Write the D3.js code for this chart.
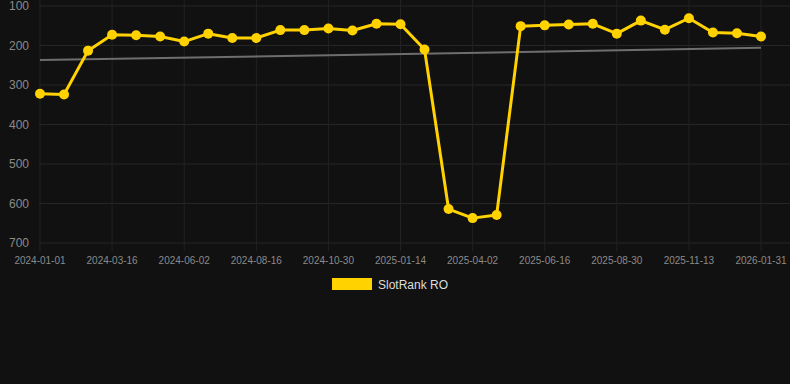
<!DOCTYPE html>
<html>
<head>
<meta charset="utf-8">
<script src="https://cdn.jsdelivr.net/npm/d3@7"></script>
<style>
  html, body { margin: 0; padding: 0; background: #111111; }
  body { width: 790px; height: 384px; overflow: hidden; font-family: "Liberation Sans", Arial, sans-serif; }
</style>
</head>
<body>
<div id="chart"></div>
<script>
// rank points, one per sampling date
const dates = [
  "2024-01-01", "2024-01-26", "2024-02-20", "2024-03-16", "2024-04-11", "2024-05-07",
  "2024-06-02", "2024-06-27", "2024-07-22", "2024-08-16", "2024-09-10", "2024-10-05",
  "2024-10-30", "2024-11-24", "2024-12-20", "2025-01-14", "2025-02-09", "2025-03-07",
  "2025-04-02", "2025-04-27", "2025-05-22", "2025-06-16", "2025-07-11", "2025-08-05",
  "2025-08-30", "2025-09-24", "2025-10-19", "2025-11-13", "2025-12-09", "2026-01-05",
  "2026-01-31"
];
const ranks = [
  322, 324, 213, 173, 174, 177, 190, 170, 181, 181, 161, 161, 157, 162, 145, 146,
  210, 614, 637, 629, 151, 149, 147, 145, 170, 137, 160, 131, 167, 169, 177
];
const trend = [237, 206];          // grey trend line, first and last date
const yTicks = [100, 200, 300, 400, 500, 600, 700];
const seriesName = "SlotRank RO";

(function() {
  const width = 790, height = 384;
  const left = 40, right = 761, top = 6, bottom = 243;

  const svg = d3.select("#chart").append("svg").attr("width", width).attr("height", height);

  const x = d3.scalePoint().domain(dates).range([left, right]);
  const y = d3.scaleLinear().domain([100, 700]).range([top, bottom]);

  const labelDates = dates.filter((d, i) => i % 3 === 0);

  // grid
  svg.append("g").selectAll("line").data(yTicks).enter().append("line")
      .attr("x1", left - 1).attr("x2", width).attr("y1", d => y(d)).attr("y2", d => y(d))
      .attr("stroke", "#262626").attr("stroke-width", 1);
  svg.append("g").selectAll("line").data(labelDates).enter().append("line")
      .attr("x1", d => x(d)).attr("x2", d => x(d)).attr("y1", 0).attr("y2", bottom + 8)
      .attr("stroke", "#222222").attr("stroke-width", 1);

  // y axis labels
  svg.append("g").selectAll("text").data(yTicks).enter().append("text")
      .attr("x", 29).attr("y", d => y(d)).attr("dy", "0.35em").attr("text-anchor", "end")
      .attr("fill", "#8a8a8a").style("font-size", "12px").text(d => d);

  // x axis labels
  svg.append("g").selectAll("text").data(labelDates).enter().append("text")
      .attr("x", d => x(d)).attr("y", 264).attr("text-anchor", "middle")
      .attr("fill", "#8a8a8a").style("font-size", "10px").text(d => d);

  // trend
  svg.append("line")
      .attr("x1", x(dates[0])).attr("x2", x(dates[dates.length - 1]))
      .attr("y1", y(trend[0])).attr("y2", y(trend[1]))
      .attr("stroke", "#6e6e6e").attr("stroke-width", 2);

  // series
  const line = d3.line().x((d, i) => x(dates[i])).y(d => y(d));
  svg.append("path").datum(ranks).attr("d", line)
      .attr("fill", "none").attr("stroke", "#ffd200").attr("stroke-width", 3)
      .attr("stroke-linejoin", "round");
  svg.append("g").selectAll("circle").data(ranks).enter().append("circle")
      .attr("cx", (d, i) => x(dates[i])).attr("cy", d => y(d)).attr("r", 5)
      .attr("fill", "#ffd200");

  // legend
  const legend = svg.append("g");
  legend.append("rect").attr("x", 332).attr("y", 278).attr("width", 40).attr("height", 12)
      .attr("fill", "#ffd200");
  legend.append("text").attr("x", 378).attr("y", 285).attr("dy", "0.35em")
      .attr("fill", "#dddddd").style("font-size", "12px").text(seriesName);
})();
</script>
</body>
</html>
